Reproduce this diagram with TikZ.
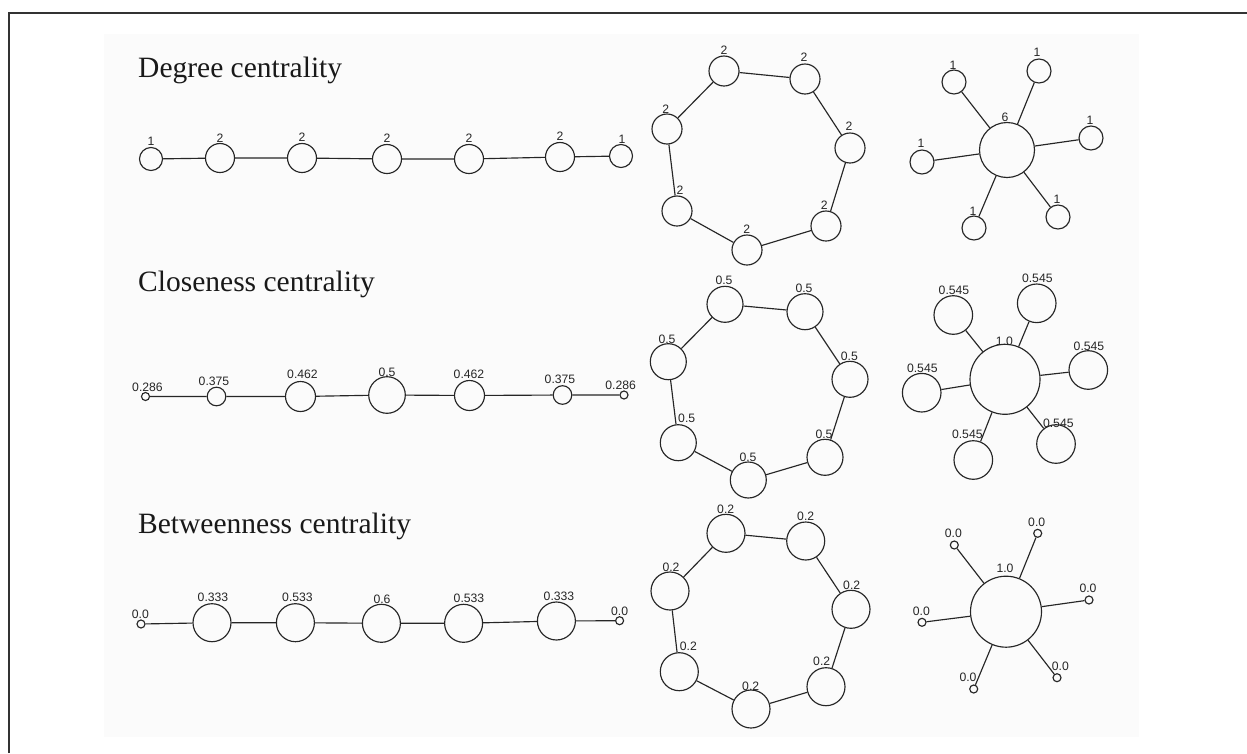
\documentclass[tikz,border=0pt]{standalone}
\usepackage{fontspec}
\setmainfont{Liberation Serif}
\newfontfamily\labfont{Liberation Sans}
\begin{document}
\begin{tikzpicture}[x=1pt,y=-1pt,
  nd/.style={circle,draw=black!85,line width=1.15pt,inner sep=0pt,minimum size=#1},
  nd/.default=29pt,
  edge/.style={draw=black!85,line width=1.15pt},
  lbl/.style={font=\labfont\fontsize{12.2}{13}\selectfont,inner sep=0pt,text=black!85},
  ttl/.style={font=\fontsize{29.5}{32}\selectfont,anchor=base west,inner sep=0pt,text=black!90}]
\useasboundingbox (0,0) rectangle (1247,753);
\fill[white] (0,0) rectangle (1247,753);
\fill[black!1.5] (104,34) rectangle (1139,737);
\draw[black!80,line width=1.6pt] (9,753) -- (9,13) -- (1247,13);

% ---------- titles
\node[ttl] (t1) at (138,77) {Degree centrality};
\node[ttl] (t2) at (138,291) {Closeness centrality};
\node[ttl] (t3) at (138,533) {Betweenness centrality};

% ---------- Degree: chain
\node[nd=23pt] (d1) at (151,159) {};
\node[nd] (d2) at (220,158) {};
\node[nd] (d3) at (302,158) {};
\node[nd] (d4) at (387,159) {};
\node[nd] (d5) at (469,159) {};
\node[nd] (d6) at (560,157) {};
\node[nd=23pt] (d7) at (621,156) {};
\draw[edge] (d1)--(d2) (d2)--(d3) (d3)--(d4) (d4)--(d5) (d5)--(d6) (d6)--(d7);
\node[lbl] (ld1) at (151,141.7) {1};
\node[lbl] (ld2) at (220,138.3) {2};
\node[lbl] (ld3) at (302,137.7) {2};
\node[lbl] (ld4) at (387,138) {2};
\node[lbl] (ld5) at (469,138) {2};
\node[lbl] (ld6) at (560,136) {2};
\node[lbl] (ld7) at (622,139) {1};

% ---------- Degree: ring
\node[nd=30pt] (dra) at (724,71) {};
\node[nd=30pt] (drb) at (805,79) {};
\node[nd=30pt] (drc) at (850,148) {};
\node[nd=30pt] (drd) at (826,226) {};
\node[nd=30pt] (dre) at (747,250) {};
\node[nd=30pt] (drf) at (677,211) {};
\node[nd=30pt] (drg) at (667,129) {};
\draw[edge] (dra)--(drb) (drb)--(drc) (drc)--(drd) (drd)--(dre) (dre)--(drf) (drf)--(drg) (drg)--(dra);
\node[lbl] (ldra) at (724,50) {2};
\node[lbl] (ldrb) at (804,57.3) {2};
\node[lbl] (ldrc) at (849,126.7) {2};
\node[lbl] (ldrd) at (824.3,205) {2};
\node[lbl] (ldre) at (746.7,229.3) {2};
\node[lbl] (ldrf) at (680,190) {2};
\node[lbl] (ldrg) at (665.7,109) {2};

% ---------- Degree: star
\node[nd=55pt] (dh) at (1007,150) {};
\node[nd=24pt] (dul) at (954,82) {};
\node[nd=24pt] (dt) at (1039,71) {};
\node[nd=24pt] (dr) at (1091,138) {};
\node[nd=24pt] (dl) at (922,162) {};
\node[nd=24pt] (dbl) at (974,228) {};
\node[nd=24pt] (dbr) at (1058,217) {};
\draw[edge] (dh)--(dul) (dh)--(dt) (dh)--(dr) (dh)--(dl) (dh)--(dbl) (dh)--(dbr);
\node[lbl] (ldh) at (1005,117) {6};
\node[lbl] (ldul) at (953,65) {1};
\node[lbl] (ldt) at (1037,52) {1};
\node[lbl] (ldr) at (1090,120) {1};
\node[lbl] (ldl) at (921,143) {1};
\node[lbl] (ldbl) at (973,211) {1};
\node[lbl] (ldbr) at (1057,199) {1};

% ---------- Closeness: chain
\node[nd=8pt] (c1) at (145.5,396.5) {};
\node[nd=18.6pt] (c2) at (216.5,396.5) {};
\node[nd=30pt] (c3) at (300.5,396.5) {};
\node[nd=36.6pt] (c4) at (387,395) {};
\node[nd=30pt] (c5) at (469.5,395.5) {};
\node[nd=18.6pt] (c6) at (562.5,395) {};
\node[nd=8pt] (c7) at (624,395) {};
\draw[edge] (c1)--(c2) (c2)--(c3) (c3)--(c4) (c4)--(c5) (c5)--(c6) (c6)--(c7);
\node[lbl] (lc1) at (147.5,387.7) {0.286};
\node[lbl] (lc2) at (214,381.7) {0.375};
\node[lbl] (lc3) at (302.5,374.3) {0.462};
\node[lbl] (lc4) at (387,372.3) {0.5};
\node[lbl] (lc5) at (469,374) {0.462};
\node[lbl] (lc6) at (560,379) {0.375};
\node[lbl] (lc7) at (620.7,385.7) {0.286};

% ---------- Closeness: ring
\node[nd=36pt] (cra) at (725,304.3) {};
\node[nd=36pt] (crb) at (805,311.7) {};
\node[nd=36pt] (crc) at (850,379.3) {};
\node[nd=36pt] (crd) at (825,457.3) {};
\node[nd=36pt] (cre) at (748.3,480) {};
\node[nd=36pt] (crf) at (678.3,442.7) {};
\node[nd=36pt] (crg) at (668.3,361.7) {};
\draw[edge] (cra)--(crb) (crb)--(crc) (crc)--(crd) (crd)--(cre) (cre)--(crf) (crf)--(crg) (crg)--(cra);
\node[lbl] (lcra) at (724,280.7) {0.5};
\node[lbl] (lcrb) at (804,288.3) {0.5};
\node[lbl] (lcrc) at (849.3,356.7) {0.5};
\node[lbl] (lcrd) at (824,434) {0.5};
\node[lbl] (lcre) at (748,457.7) {0.5};
\node[lbl] (lcrf) at (686.7,418.3) {0.5};
\node[lbl] (lcrg) at (667,339) {0.5};

% ---------- Closeness: star
\node[nd=70pt] (ch) at (1005,379.3) {};
\node[nd=38.6pt] (cul) at (953.3,315) {};
\node[nd=38.6pt] (ct) at (1036.7,303.3) {};
\node[nd=38.6pt] (cr) at (1088.3,370) {};
\node[nd=38.6pt] (cl) at (921.7,392.7) {};
\node[nd=38.6pt] (cbl) at (973.3,460) {};
\node[nd=38.6pt] (cbr) at (1056,444) {};
\draw[edge] (ch)--(cul) (ch)--(ct) (ch)--(cr) (ch)--(cl) (ch)--(cbl) (ch)--(cbr);
\node[lbl] (lch) at (1004.3,341) {1.0};
\node[lbl] (lcul) at (954,290.7) {0.545};
\node[lbl] (lct) at (1037.3,278.3) {0.545};
\node[lbl] (lcr) at (1089,346) {0.545};
\node[lbl] (lcl) at (922.3,368.7) {0.545};
\node[lbl] (lcbl) at (967.3,434) {0.545};
\node[lbl] (lcbr) at (1058.3,423.3) {0.545};

% ---------- Betweenness: chain
\node[nd=8pt] (b1) at (141,624) {};
\node[nd=38pt] (b2) at (212,622.7) {};
\node[nd=38pt] (b3) at (295.4,622.7) {};
\node[nd=38pt] (b4) at (381.4,623.3) {};
\node[nd=38pt] (b5) at (463.6,623.3) {};
\node[nd=38pt] (b6) at (556.4,621) {};
\node[nd=8pt] (b7) at (619.6,620.7) {};
\draw[edge] (b1)--(b2) (b2)--(b3) (b3)--(b4) (b4)--(b5) (b5)--(b6) (b6)--(b7);
\node[lbl] (lb1) at (140.4,614.3) {0.0};
\node[lbl] (lb2) at (213,597.3) {0.333};
\node[lbl] (lb3) at (297.5,597.3) {0.533};
\node[lbl] (lb4) at (382,599.3) {0.6};
\node[lbl] (lb5) at (469,598) {0.533};
\node[lbl] (lb6) at (559,596.7) {0.333};
\node[lbl] (lb7) at (619.6,611.7) {0.0};

% ---------- Betweenness: ring
\node[nd=38pt] (bra) at (726,533.3) {};
\node[nd=38pt] (brb) at (805.7,541) {};
\node[nd=38pt] (brc) at (851,609.3) {};
\node[nd=38pt] (brd) at (826,686.7) {};
\node[nd=38pt] (bre) at (751,709) {};
\node[nd=38pt] (brf) at (679.3,671.7) {};
\node[nd=38pt] (brg) at (670,591) {};
\draw[edge] (bra)--(brb) (brb)--(brc) (brc)--(brd) (brd)--(bre) (bre)--(brf) (brf)--(brg) (brg)--(bra);
\node[lbl] (lbra) at (725.7,509.3) {0.2};
\node[lbl] (lbrb) at (805.7,516) {0.2};
\node[lbl] (lbrc) at (851.7,585.7) {0.2};
\node[lbl] (lbrd) at (821.7,661.7) {0.2};
\node[lbl] (lbre) at (750.7,686.7) {0.2};
\node[lbl] (lbrf) at (688.3,646.7) {0.2};
\node[lbl] (lbrg) at (671,567.7) {0.2};

% ---------- Betweenness: star
\node[nd=71pt] (bh) at (1006,611.7) {};
\node[nd=8pt] (bul) at (954.3,545) {};
\node[nd=8pt] (bt) at (1037.7,533.3) {};
\node[nd=8pt] (br) at (1089,600) {};
\node[nd=8pt] (bl) at (922,622.3) {};
\node[nd=8pt] (bbl) at (973.7,689) {};
\node[nd=8pt] (bbr) at (1057,677.7) {};
\draw[edge] (bh)--(bul) (bh)--(bt) (bh)--(br) (bh)--(bl) (bh)--(bbl) (bh)--(bbr);
\node[lbl] (lbh) at (1005,568) {1.0};
\node[lbl] (lbul) at (953.3,533.3) {0.0};
\node[lbl] (lbt) at (1036.7,522.7) {0.0};
\node[lbl] (lbr) at (1088,588.3) {0.0};
\node[lbl] (lbl) at (921.3,611) {0.0};
\node[lbl] (lbbl) at (968,677.3) {0.0};
\node[lbl] (lbbr) at (1060.3,666) {0.0};
\end{tikzpicture}
\end{document}
